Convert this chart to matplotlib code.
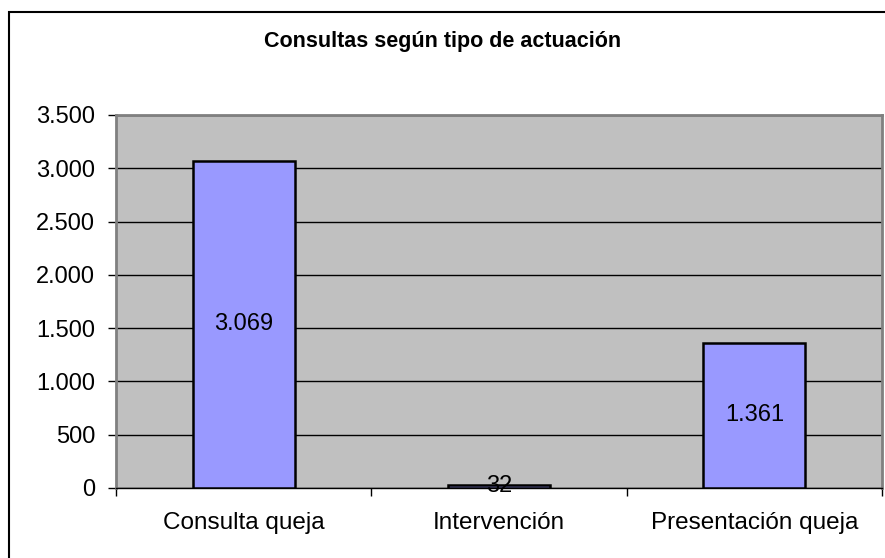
import numpy as np
import matplotlib.pyplot as plt
from matplotlib.patches import Rectangle
from matplotlib.ticker import FuncFormatter

plt.rcParams['font.family'] = ['Liberation Sans', 'DejaVu Sans']

categories = ['Consulta queja', 'Intervención', 'Presentación queja']
values = [3069, 32, 1361]
labels = ['3.069', '32', '1.361']
yticks = [0, 500, 1000, 1500, 2000, 2500, 3000, 3500]

W, H = 885, 558
fig = plt.figure(figsize=(W / 100, H / 100), dpi=100)
ax = fig.add_axes([116 / W, 1 - 488 / H, (882 - 116) / W, (488 - 115) / H])

# outer chart border (runs off the right and bottom edges)
fig.patches.append(Rectangle((9 / W, -0.1), 1.2, 1 - 12 / H + 0.1,
                             transform=fig.transFigure, fill=False,
                             edgecolor='black', linewidth=1.5))

x = np.arange(len(categories))
ax.set_facecolor('#C0C0C0')
ax.bar(x, values, width=0.40, color='#9999FF', edgecolor='black',
       linewidth=1.8, zorder=3)
for xi, v, lab in zip(x, values, labels):
    ax.text(xi, v / 2, lab, ha='center', va='center', fontsize=17, zorder=4)

ax.set_xlim(-0.5, 2.5)
ax.set_ylim(0, 3500)
ax.set_yticks(yticks)
ax.yaxis.set_major_formatter(FuncFormatter(lambda v, p: f'{int(v):,}'.replace(',', '.')))
ax.yaxis.grid(True, color='black', linewidth=1)
ax.set_axisbelow(True)

ax.set_xticks([-0.5, 0.5, 1.5, 2.5])
ax.set_xticklabels([])
ax.set_xticks(x, minor=True)
ax.set_xticklabels(categories, minor=True)
ax.tick_params(axis='x', which='minor', length=0, pad=17, labelsize=17.5)
ax.tick_params(axis='x', which='major', length=6, width=1, direction='out')
ax.tick_params(axis='y', length=6, width=1, direction='out', labelsize=17, pad=9)

for s in ['top', 'left', 'right']:
    ax.spines[s].set_color('#808080')
    ax.spines[s].set_linewidth(2)
ax.spines['bottom'].set_color('black')
ax.spines['bottom'].set_linewidth(1)

fig.text(0.5, 1 - 42 / H, 'Consultas según tipo de actuación', ha='center',
         va='center', fontsize=15.5, fontweight='bold')

fig.savefig('out.png', dpi=100)
